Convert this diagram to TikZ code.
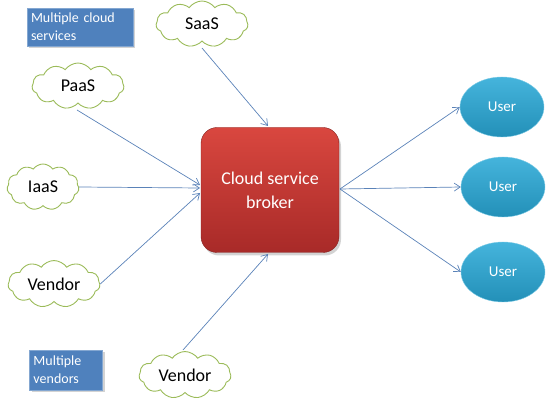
\documentclass[tikz,border=0pt]{standalone}
\usepackage{fontspec}
\setmainfont{Carlito}
\usetikzlibrary{shapes.symbols,shapes.geometric,shadows,arrows.meta}
\definecolor{boxblue}{HTML}{4F81BD}
\definecolor{cloudgreen}{HTML}{9BBB59}
\definecolor{arrowblue}{HTML}{5A82B8}
\definecolor{brokertop}{HTML}{D9473F}
\definecolor{brokerbot}{HTML}{A82A28}
\definecolor{usertop}{HTML}{45B4DC}
\definecolor{userbot}{HTML}{2390B8}
\tikzset{
  cloudnode/.style={cloud, cloud puffs=11, cloud puff arc=110, draw=cloudgreen, line width=0.9pt, fill=white,
    minimum width=92pt, minimum height=46pt, inner sep=0pt, font=\fontsize{18}{20}\selectfont, aspect=2},
  labelbox/.style={fill=boxblue, draw=boxblue!70!white, text=white, align=left, inner sep=4pt,
    font=\fontsize{14}{18}\selectfont, drop shadow={opacity=0.35, shadow xshift=2pt, shadow yshift=-2pt}},
  brokerbox/.style={rounded corners=16pt, top color=brokertop, bottom color=brokerbot, draw=brokerbot!80!black,
    minimum width=138pt, minimum height=125pt, text=white, align=center, font=\fontsize{18}{24}\selectfont,
    drop shadow={opacity=0.35, shadow xshift=2pt, shadow yshift=-3pt}},
  usernode/.style={ellipse, top color=usertop, bottom color=userbot, draw=usertop!70!white,
    minimum width=84pt, minimum height=60pt, text=white, font=\fontsize{15}{18}\selectfont},
  conn/.style={draw=arrowblue, line width=0.7pt, -{Straight Barb[length=6pt,width=8pt]}}
}
\begin{document}
\begin{tikzpicture}[x=1pt,y=-1pt]
\useasboundingbox (0,0) rectangle (550,401);
\node[labelbox, text width=98pt, minimum height=38pt] (mcs) at (80,27) {Multiple cloud\\services};
\node[labelbox, text width=65pt, minimum height=40pt] (mv) at (66,370) {Multiple\\vendors};
\node[cloudnode] (saas) at (202,24) {SaaS};
\node[cloudnode] (paas) at (78,86) {PaaS};
\node[cloudnode, minimum width=72pt] (iaas) at (43,187) {IaaS};
\node[cloudnode] (v1) at (54,284) {Vendor};
\node[cloudnode] (v2) at (185,375) {Vendor};
\node[brokerbox] (broker) at (270,190) {Cloud service\\broker};
\node[usernode] (u1) at (502,107) {User};
\node[usernode] (u2) at (503,187) {User};
\node[usernode] (u3) at (503,272) {User};
% connector end points on the broker's border
\coordinate (bnorth) at (268,126);
\coordinate (bsouth) at (268,254);
\coordinate (bw1) at (200,185);
\coordinate (bw2) at (200,188);
\coordinate (bw3) at (200,193);
\coordinate (be) at (340,189);
% connector start points on the clouds
\coordinate (saasout) at (202,48);
\coordinate (paasout) at (77,110);
\coordinate (v2out) at (183,350);
\draw[conn] (saasout) -- (bnorth);
\draw[conn] (paasout) -- (bw1);
\draw[conn] (iaas.east) -- (bw2);
\draw[conn] (v1.east) -- (bw3);
\draw[conn] (v2out) -- (bsouth);
\draw[conn] (be) -- (u1.west);
\draw[conn] (be) -- (u2.west);
\draw[conn] (be) -- (u3.west);
\end{tikzpicture}
\end{document}
